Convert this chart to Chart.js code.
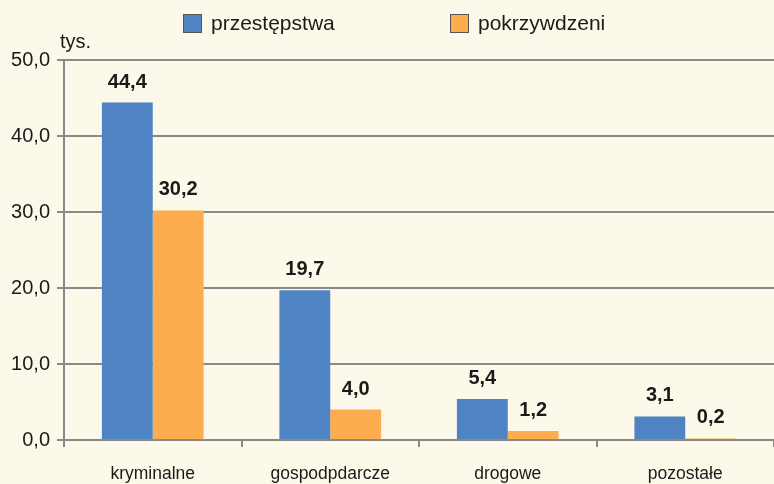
<!DOCTYPE html>
<html>
<head>
<meta charset="utf-8">
<script src="https://cdn.jsdelivr.net/npm/chart.js@4"></script>
<style>
  html, body { margin: 0; padding: 0; background: #fdf9ea; }
  #wrap { width: 774px; height: 484px; }
</style>
</head>
<body>
<div id="wrap"><canvas id="chart" width="774" height="484"></canvas></div>
<script>
// dane
var kategorie = ['kryminalne', 'gospodpdarcze', 'drogowe', 'pozostałe'];
var przestepstwa = [44.4, 19.7, 5.4, 3.1];
var pokrzywdzeni = [30.2, 4.0, 1.2, 0.2];
var etykietySerii = ['przestępstwa', 'pokrzywdzeni'];
var jednostka = 'tys.';

var niebieski = '#4f84c4';
var pomaranczowy = '#fdad4e';
var szary = '#8a8a8a';
var font = '"Liberation Sans", Arial, sans-serif';

function fmt(v) {
  return v.toFixed(1).replace('.', ',');
}

// etykiety nad słupkami, legenda i "tys."
var dodatki = {
  id: 'dodatki',
  afterDatasetsDraw: function(chart) {
    var ctx = chart.ctx;
    ctx.save();
    ctx.fillStyle = '#1a1a1a';
    ctx.font = 'bold 20px ' + font;
    ctx.textAlign = 'center';
    ctx.textBaseline = 'alphabetic';
    chart.data.datasets.forEach(function(ds, i) {
      var meta = chart.getDatasetMeta(i);
      meta.data.forEach(function(bar, j) {
        ctx.fillText(fmt(ds.data[j]), bar.x, bar.y - 15);
      });
    });

    ctx.font = '20px ' + font;
    ctx.textAlign = 'left';
    ctx.textBaseline = 'middle';
    ctx.fillText(jednostka, 60, 42);

    ctx.font = '21px ' + font;
    var pozycje = [183, 450];
    chart.data.datasets.forEach(function(ds, i) {
      var x = pozycje[i];
      ctx.fillStyle = ds.backgroundColor;
      ctx.fillRect(x, 14, 19, 19);
      ctx.strokeStyle = '#555';
      ctx.lineWidth = 1;
      ctx.strokeRect(x + 0.5, 14.5, 18, 18);
      ctx.fillStyle = '#1a1a1a';
      ctx.fillText(ds.label, x + 28, 24);
    });
    ctx.restore();
  }
};

var ctx = document.getElementById('chart').getContext('2d');
var chart = new Chart(ctx, {
  type: 'bar',
  data: {
    labels: kategorie,
    datasets: [{
      label: etykietySerii[0],
      data: przestepstwa,
      backgroundColor: niebieski,
      barPercentage: 1,
      categoryPercentage: 0.573
    }, {
      label: etykietySerii[1],
      data: pokrzywdzeni,
      backgroundColor: pomaranczowy,
      barPercentage: 1,
      categoryPercentage: 0.573
    }]
  },
  options: {
    responsive: false,
    animation: false,
    layout: { padding: { top: 60, left: 0, right: 0, bottom: 0 } },
    plugins: {
      legend: { display: false },
      tooltip: { enabled: false }
    },
    scales: {
      x: {
        offset: true,
        grid: {
          display: true,
          offset: true,
          drawOnChartArea: false,
          drawTicks: true,
          tickLength: 7,
          color: szary,
          lineWidth: 2
        },
        border: { display: true, color: szary, width: 2 },
        ticks: {
          color: '#1a1a1a',
          font: { family: font, size: 17.5 },
          padding: 17,
          maxRotation: 0
        },
        afterFit: function(scale) { scale.height = 44; }
      },
      y: {
        min: 0,
        max: 50,
        grid: {
          color: szary,
          lineWidth: 2,
          tickLength: 7,
          drawTicks: true
        },
        border: { display: true, color: szary, width: 2 },
        ticks: {
          stepSize: 10,
          color: '#1a1a1a',
          font: { family: font, size: 20 },
          padding: 7,
          callback: function(v) { return fmt(v); }
        },
        afterFit: function(scale) { scale.width = 64; }
      }
    }
  },
  plugins: [dodatki]
});
</script>
</body>
</html>
